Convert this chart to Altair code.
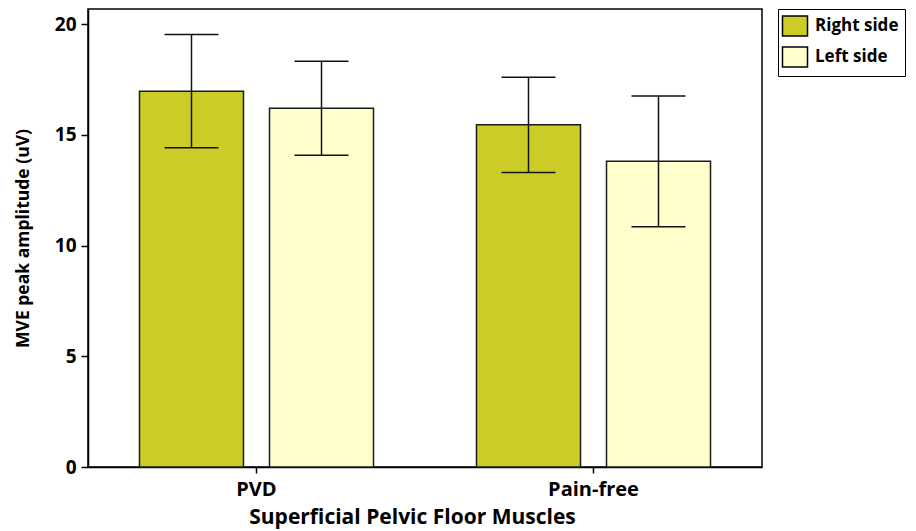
import altair as alt
import pandas as pd

groups = ["PVD", "Pain-free"]
sides = ["Right side", "Left side"]
bar_group = ["PVD", "PVD", "Pain-free", "Pain-free"]
bar_side = ["Right side", "Left side", "Right side", "Left side"]
means = [16.97, 16.2, 15.45, 13.8]
errors = [2.56, 2.12, 2.15, 2.95]
colors = ["#CCCC26", "#FFFFCC"]
y_ticks = [0, 5, 10, 15, 20]

df = pd.DataFrame({"group": bar_group, "side": bar_side, "mean": means, "err": errors})

FONT = "Open Sans"

x_enc = alt.X(
    "group:N",
    sort=groups,
    scale=alt.Scale(paddingInner=0.3056, paddingOuter=0.1528),
    axis=alt.Axis(
        title="Superficial Pelvic Floor Muscles",
        labelAngle=0,
        bandPosition=0.5,
        domainColor="black",
        domainWidth=1.5,
        tickColor="black",
        tickWidth=1.5,
        tickSize=6,
        labelFont=FONT,
        labelFontWeight="bold",
        labelFontSize=20,
        labelColor="black",
        labelPadding=6,
        titleFont=FONT,
        titleFontWeight="bold",
        titleFontSize=21,
        titleColor="black",
        titleX=324,
        titleY=56,
        titleBaseline="alphabetic",
        titleAlign="center",
    ),
)
xo_enc = alt.XOffset("side:N", sort=sides, scale=alt.Scale(paddingInner=0.2, paddingOuter=0))
y_scale = alt.Scale(domain=[0, 20.68], nice=False)

bars = alt.Chart(df).mark_bar(stroke="#1a1a1a", strokeWidth=1.5, opacity=1).encode(
    x=x_enc,
    xOffset=xo_enc,
    y=alt.Y(
        "mean:Q",
        scale=y_scale,
        axis=alt.Axis(
            title="MVE peak amplitude (uV)",
            values=y_ticks,
            grid=False,
            domainColor="black",
            domainWidth=1.5,
            tickColor="black",
            tickWidth=1.5,
            tickSize=7,
            labelFont=FONT,
            labelFontWeight="bold",
            labelFontSize=19,
            labelColor="black",
            labelPadding=5,
            titleFont=FONT,
            titleFontWeight="bold",
            titleFontSize=17.5,
            titleColor="black",
            titleX=-65,
            titleY=229,
            titleBaseline="middle",
            titleAlign="center",
            titleAngle=-90,
        ),
    ),
    color=alt.Color(
        "side:N",
        sort=sides,
        scale=alt.Scale(domain=sides, range=colors),
        legend=alt.Legend(
            title=None,
            orient="none",
            legendX=690,
            legendY=0,
            strokeColor="black",
            fillColor="white",
            padding=6,
            symbolType="M-1.25,-1L1.25,-1L1.25,1L-1.25,1Z",
            symbolSize=400,
            symbolStrokeColor="black",
            symbolStrokeWidth=1.5,
            symbolOpacity=1,
            labelFont=FONT,
            labelFontWeight="bold",
            labelFontSize=17,
            labelColor="black",
            labelOffset=9,
            rowPadding=5,
        ),
    ),
)

base = alt.Chart(df).transform_calculate(
    lo="datum.mean - datum.err", hi="datum.mean + datum.err"
)

rules = base.mark_rule(color="#111111", strokeWidth=1.5).encode(
    x=x_enc, xOffset=xo_enc, y=alt.Y("lo:Q", scale=y_scale), y2="hi:Q"
)
caps_hi = base.mark_tick(orient="horizontal", size=54, thickness=1.5, color="#111111", opacity=1).encode(
    x=x_enc, xOffset=xo_enc, y=alt.Y("hi:Q", scale=y_scale)
)
caps_lo = base.mark_tick(orient="horizontal", size=54, thickness=1.5, color="#111111", opacity=1).encode(
    x=x_enc, xOffset=xo_enc, y=alt.Y("lo:Q", scale=y_scale)
)

chart = (
    alt.layer(bars, rules, caps_hi, caps_lo)
    .properties(
        width=674,
        height=458,
        autosize=alt.AutoSizeParams(type="none"),
        padding={"left": 80, "top": 1, "right": 146, "bottom": 64},
        background="white",
    )
    .configure_view(stroke="black", strokeWidth=1.5)
)

chart.save("out.html", embed_options={"renderer": "svg", "actions": False})
